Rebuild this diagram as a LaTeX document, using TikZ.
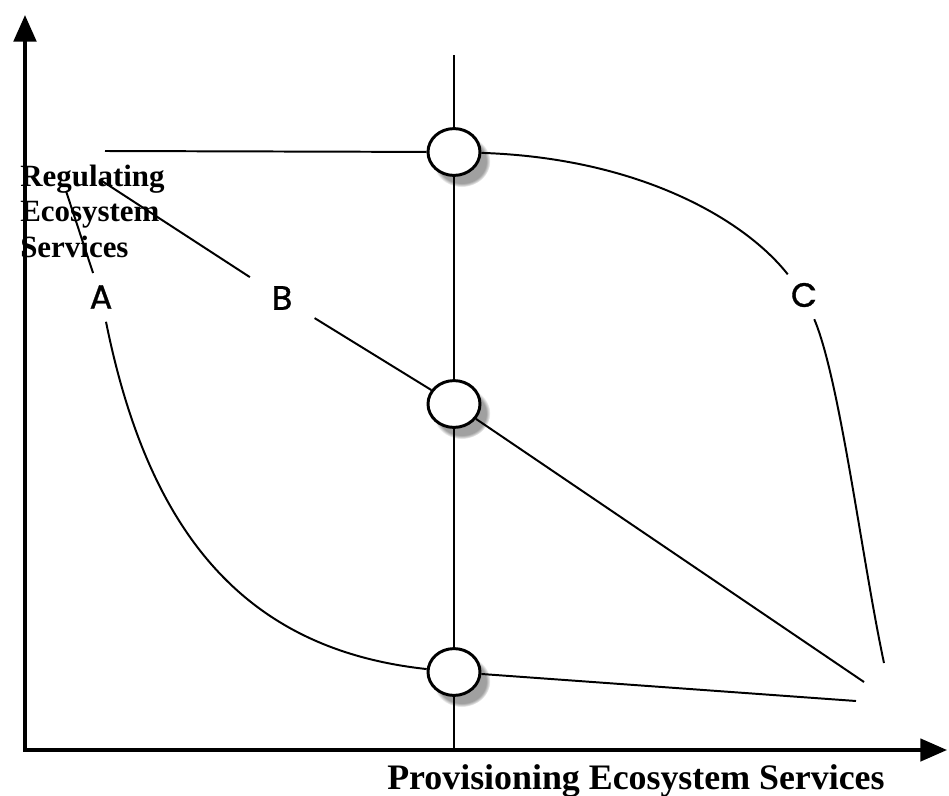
\documentclass[tikz,border=0pt]{standalone}
\usepackage{fontspec}
\setmainfont{Liberation Serif}
\newfontfamily\letterfont[FakeBold=1]{Poppins}
\usetikzlibrary{arrows.meta, positioning, shapes.geometric, shadows}

\begin{document}
\begin{tikzpicture}[x=0.025cm, y=-0.025cm,
    hole/.style={ellipse, draw, line width=2.1pt, fill=white,
      minimum width=1.3cm, minimum height=1.17cm, inner sep=0pt,
      circular drop shadow={shadow xshift=5pt, shadow yshift=-6pt, shadow scale=1.1, opacity=0.75}},
    tag/.style={circle, inner sep=0pt, font=\letterfont\fontsize{24}{26}\selectfont},
    curve/.style={line width=1.4pt},
    axis/.style={line width=2.8pt, -{Triangle[length=19pt,width=16pt]}}]
  \useasboundingbox (0,0) rectangle (949,796);

  % axes
  \coordinate (orig) at (25,751);
  \coordinate (ytip) at (25,15);
  \coordinate (xtip) at (947,750);
  \draw[axis] (orig) -- (ytip);
  \draw[axis, line width=2.3pt] (23,750) -- (xtip);

  % the three points on the vertical line
  \node[hole] (top) at (454,152) {};
  \node[hole] (mid) at (454,404) {};
  \node[hole] (low) at (454,672) {};

  \coordinate (vtop) at (454,55);
  \coordinate (vbot) at (454,750);
  \draw[line width=2pt] (vtop) -- (top);
  \draw[line width=2pt] (top) -- (mid);
  \draw[line width=2pt] (mid) -- (low);
  \draw[line width=2pt] (low) -- (vbot);

  % curve labels
  \node[tag, minimum size=1.25cm] (A) at (101,297) {A};
  \node[tag, minimum size=1.9cm]  (B) at (282,298) {B};
  \node[tag, minimum size=1.3cm]  (C) at (804,295) {C};

  \coordinate (a0) at (66,191);
  \coordinate (b0) at (102,181);
  \coordinate (c0) at (105,151);
  \coordinate (aend) at (856,701);
  \coordinate (bend) at (864,682);
  \coordinate (cend) at (884,663);

  % curve A
  \draw[curve] (a0) -- (A);
  \draw[curve] (A) .. controls (150,540) and (250,650) .. (low);
  \draw[curve] (low) -- (aend);

  % line B
  \draw[curve] (b0) -- (B);
  \draw[curve] (B) -- (mid);
  \draw[curve] (mid) -- (bend);

  % curve C
  \draw[curve] (c0) -- (top);
  \draw[curve] (top) .. controls (640,158) and (745,220) .. (C);
  \draw[curve] (C) .. controls (840,380) and (862,560) .. (cend);

  % axis titles
  \node[anchor=north west, inner sep=0pt, align=left,
    font=\bfseries\fontsize{22}{25}\selectfont] (ylab) at (20,165)
    {Regulating\\Ecosystem\\Services};
  \node[anchor=base west, inner sep=0pt,
    font=\bfseries\fontsize{25.5}{28}\selectfont] (xlab) at (387,789)
    {Provisioning Ecosystem Services};
\end{tikzpicture}
\end{document}
